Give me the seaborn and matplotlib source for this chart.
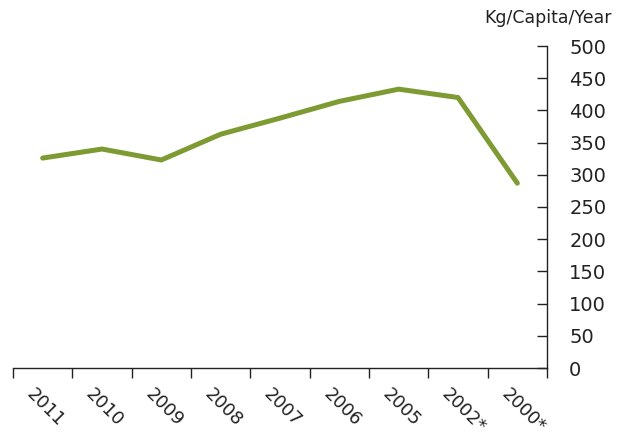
import matplotlib
matplotlib.use("Agg")
import matplotlib.pyplot as plt
import matplotlib.transforms as mtrans
import seaborn as sns
import pandas as pd
import numpy as np

years = ['2011', '2010', '2009', '2008', '2007', '2006', '2005', '2002*', '2000*']
waste = [326, 340, 323, 363, 388, 414, 433, 420, 287]

df = pd.DataFrame({'pos': np.arange(len(years)), 'year': years, 'kg': waste})

sns.set_style('white')
plt.rcParams['font.family'] = ['DejaVu Sans']

fig = plt.figure(figsize=(6.18, 4.38), dpi=100)
ax = fig.add_axes([13/618, 1 - 368/438, (547 - 13)/618, (368 - 46)/438])

sns.lineplot(data=df, x='pos', y='kg', color='#7d9a33', linewidth=3.6, ax=ax)

ax.set_xlim(-0.5, len(years) - 0.5)
ax.set_ylim(0, 500)
ax.yaxis.tick_right()
ax.set_yticks(range(0, 501, 50))
ax.tick_params(axis='y', direction='in', length=7, width=1, colors='#222222',
               labelsize=14, pad=16, labelcolor='#222222', right=True, left=False)

ax.set_xticks(np.arange(-0.5, len(years)), labels=[])
ax.set_xticks(np.arange(len(years)), labels=years, minor=True)
ax.tick_params(axis='x', which='major', direction='out', length=7, width=1,
               colors='#222222', bottom=True)
ax.tick_params(axis='x', which='minor', length=0, labelsize=13, pad=12,
               labelcolor='#222222', bottom=True)
for lab in ax.get_xticklabels(minor=True):
    lab.set_rotation(-45)
    lab.set_ha('left')
    lab.set_va('top')
    lab.set_rotation_mode('anchor')
    lab.set_transform(lab.get_transform() + mtrans.ScaledTranslation(-7/100, 0, fig.dpi_scale_trans))

for side in ['top', 'left']:
    ax.spines[side].set_visible(False)
for side in ['bottom', 'right']:
    ax.spines[side].set_color('#222222')
    ax.spines[side].set_linewidth(1)

ax.set_xlabel('')
ax.set_ylabel('')
fig.text(612/618, 1 - 18/438, 'Kg/Capita/Year', ha='right', va='center',
         fontsize=12.5, color='#222222')

fig.savefig('out.png', dpi=100)
